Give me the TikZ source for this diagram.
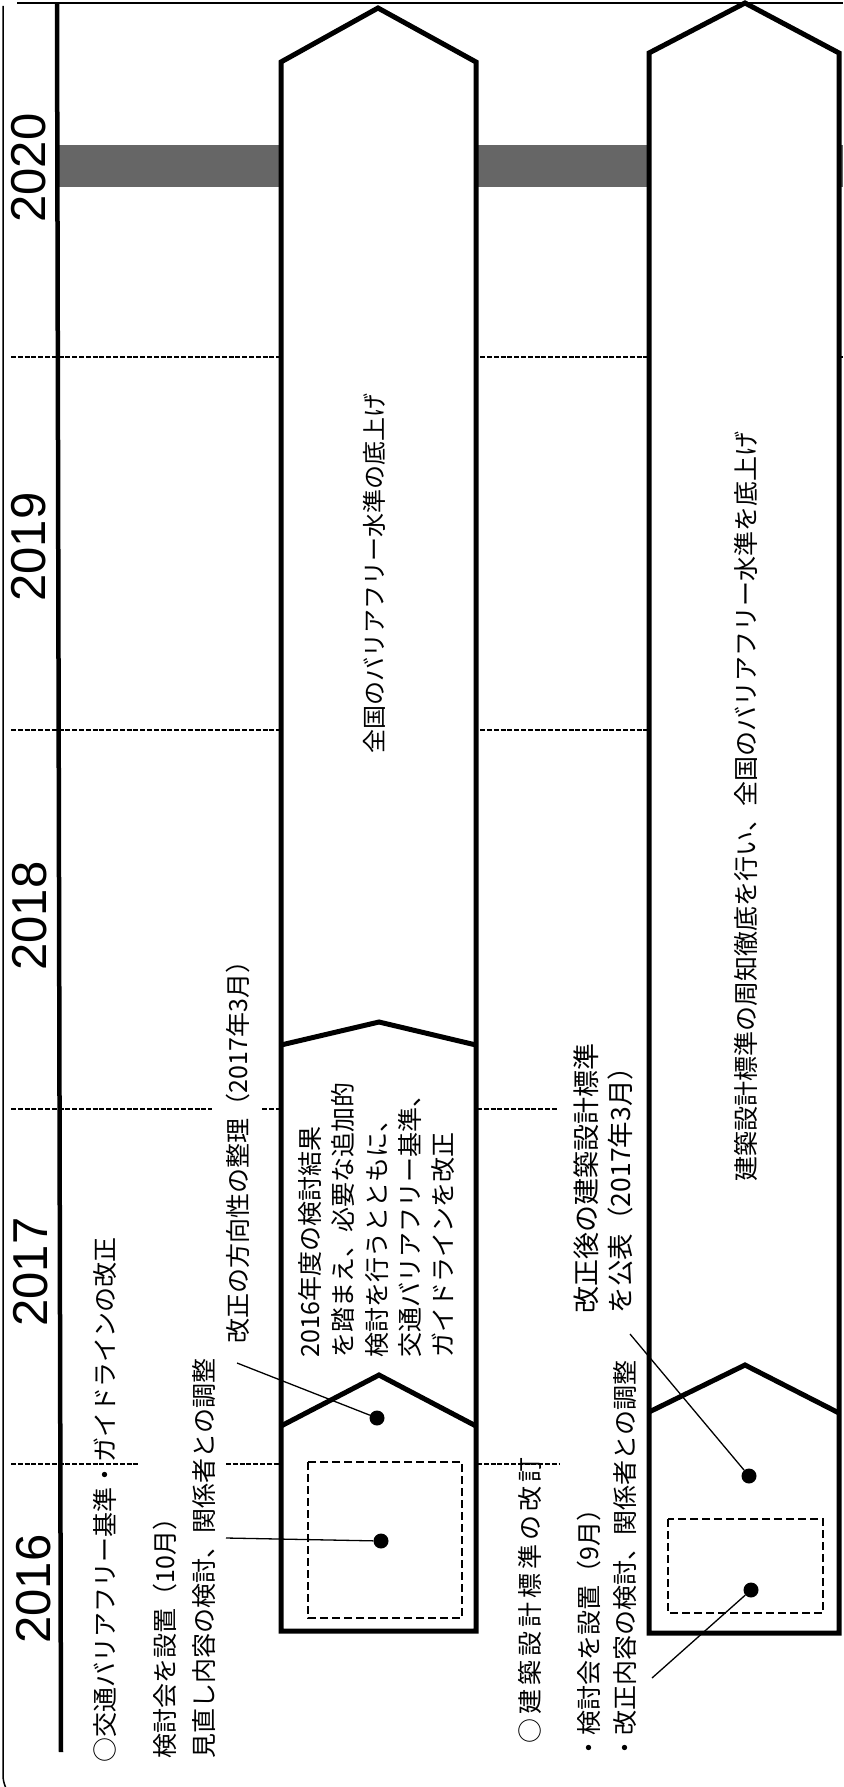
\documentclass[tikz,border=0pt]{standalone}
\usepackage{fontspec}
\newfontfamily\jpfont{Noto Sans CJK JP}
\newfontfamily\yearfont{Liberation Sans}
\newcommand{\lsp}{\hspace{4pt}}
\begin{document}
\begin{tikzpicture}[x=1pt,y=-1pt,
  jp/.style={font=\jpfont\fontsize{25}{30}\selectfont, inner sep=0pt, outer sep=0pt, rotate=90},
  jpA/.style={jp, anchor=west},
  yr/.style={font=\yearfont\fontsize{49}{55}\selectfont, inner sep=0pt, rotate=90},
  arrowshape/.style={line width=5pt, fill=white, line join=miter},
  chevron/.style={line width=5pt, line join=miter},
  yearsep/.style={line width=2.2pt, dash pattern=on 5pt off 1.8pt},
  dashbox/.style={line width=2pt, dash pattern=on 8pt off 4pt},
  leadline/.style={line width=1.3pt},
  bdot/.style={circle, fill=black, inner sep=0pt, minimum size=15pt},
  grayband/.style={fill=black!60}]
\useasboundingbox (0,0) rectangle (843,1787);
% frame
\draw[line width=1.5pt, rounded corners=30pt] (3,6) -- (3,1805) -- (80,1805);
\draw[line width=2.5pt] (17,3) -- (843,3);
% gray band (2020)
\fill[grayband] (59,145) rectangle (843,187);
% year separators
\draw[yearsep] (11,357) -- (843,357);
\draw[yearsep] (11,730) -- (649,730);
\draw[yearsep] (11,1109) -- (212,1109);
\draw[yearsep] (262,1109) -- (281,1109);
\draw[yearsep] (477,1109) -- (558,1109);
\draw[yearsep] (11,1464) -- (139,1464);
\draw[yearsep] (226,1464) -- (281,1464);
\draw[yearsep] (477,1464) -- (559,1464);
% axis
\draw[line width=4.5pt] (57,3) -- (61,1752);
% arrows
\draw[arrowshape] (281,1631) -- (281,62) -- (378,8) -- (476,62) -- (476,1631) -- cycle;
\draw[chevron] (281,1426) -- (379,1375) -- (476,1426);
\draw[chevron] (281,1045) -- (379,1022) -- (476,1045);
\draw[arrowshape] (649,1633) -- (649,53) -- (745,3) -- (839,53) -- (839,1633) -- cycle;
\draw[chevron] (649,1412) -- (745,1365) -- (839,1413);
% dashed boxes
\draw[dashbox] (308,1462) rectangle (462,1618);
\draw[dashbox] (668,1519) rectangle (823,1613);
% years
\node[yr] (y2020) at (29,168) {2020};
\node[yr] (y2019) at (29,547) {2019};
\node[yr] (y2018) at (30,916) {2018};
\node[yr] (y2017) at (31,1272) {2017};
\node[yr] (y2016) at (34,1589) {2016};
% left texts
\node[jpA] (ka) at (105,1762) {○交通バリアフリー基準・ガイドラインの改正};
\node[jpA] (kb1) at (165,1758) {検討会を設置（10月）};
\node[jpA] (kb2) at (204,1758) {見直し内容の検討、関係者との調整};
\node[jpA] (kc) at (238,1343) {改正の方向性の整理（2017年3月）};
% arrow 1 texts
\node[jpA] (m1) at (310,1357) {2016年度の検討結果};
\node[jpA] (m2) at (343,1357) {を踏まえ、必要な追加的};
\node[jpA] (m3) at (377,1357) {検討を行うとともに、};
\node[jpA] (m4) at (410,1357) {交通バリアフリー基準、};
\node[jpA] (m5) at (443,1357) {ガイドラインを改正};
\node[jp, font=\jpfont\fontsize{24}{28}\selectfont] (t1) at (374,573) {全国のバリアフリー水準の底上げ};
% middle texts
\node[jpA] (kd) at (530,1743) {○\lsp 建\lsp 築\lsp 設\lsp 計\lsp 標\lsp 準\lsp の\lsp 改\lsp 訂};
\node[jpA] (ke1) at (589,1760) {・検討会を設置（9月）};
\node[jpA] (ke2) at (625,1760) {・改正内容の検討、関係者との調整};
\node[jpA, font=\jpfont\fontsize{27}{30}\selectfont] (kf1) at (586,1313) {改正後の建築設計標準};
\node[jpA, font=\jpfont\fontsize{26.5}{30}\selectfont] (kf2) at (620,1313) {を公表（2017年3月）};
\node[jp] (t2) at (746,806) {建築設計標準の周知徹底を行い、全国のバリアフリー水準を底上げ};
% dots
\node[bdot] (d1) at (377,1418) {};
\node[bdot] (d2) at (381,1541) {};
\node[bdot] (d3) at (749,1476) {};
\node[bdot] (d4) at (751,1590) {};
% leaders
\coordinate (lb) at (226,1538);
\coordinate (lc) at (237,1363);
\coordinate (lf) at (630,1334);
\coordinate (le) at (652,1678);
\draw[leadline] (lb) -- (d2);
\draw[leadline] (lc) -- (d1);
\draw[leadline] (lf) -- (d3);
\draw[leadline] (le) -- (d4);
\end{tikzpicture}
\end{document}
